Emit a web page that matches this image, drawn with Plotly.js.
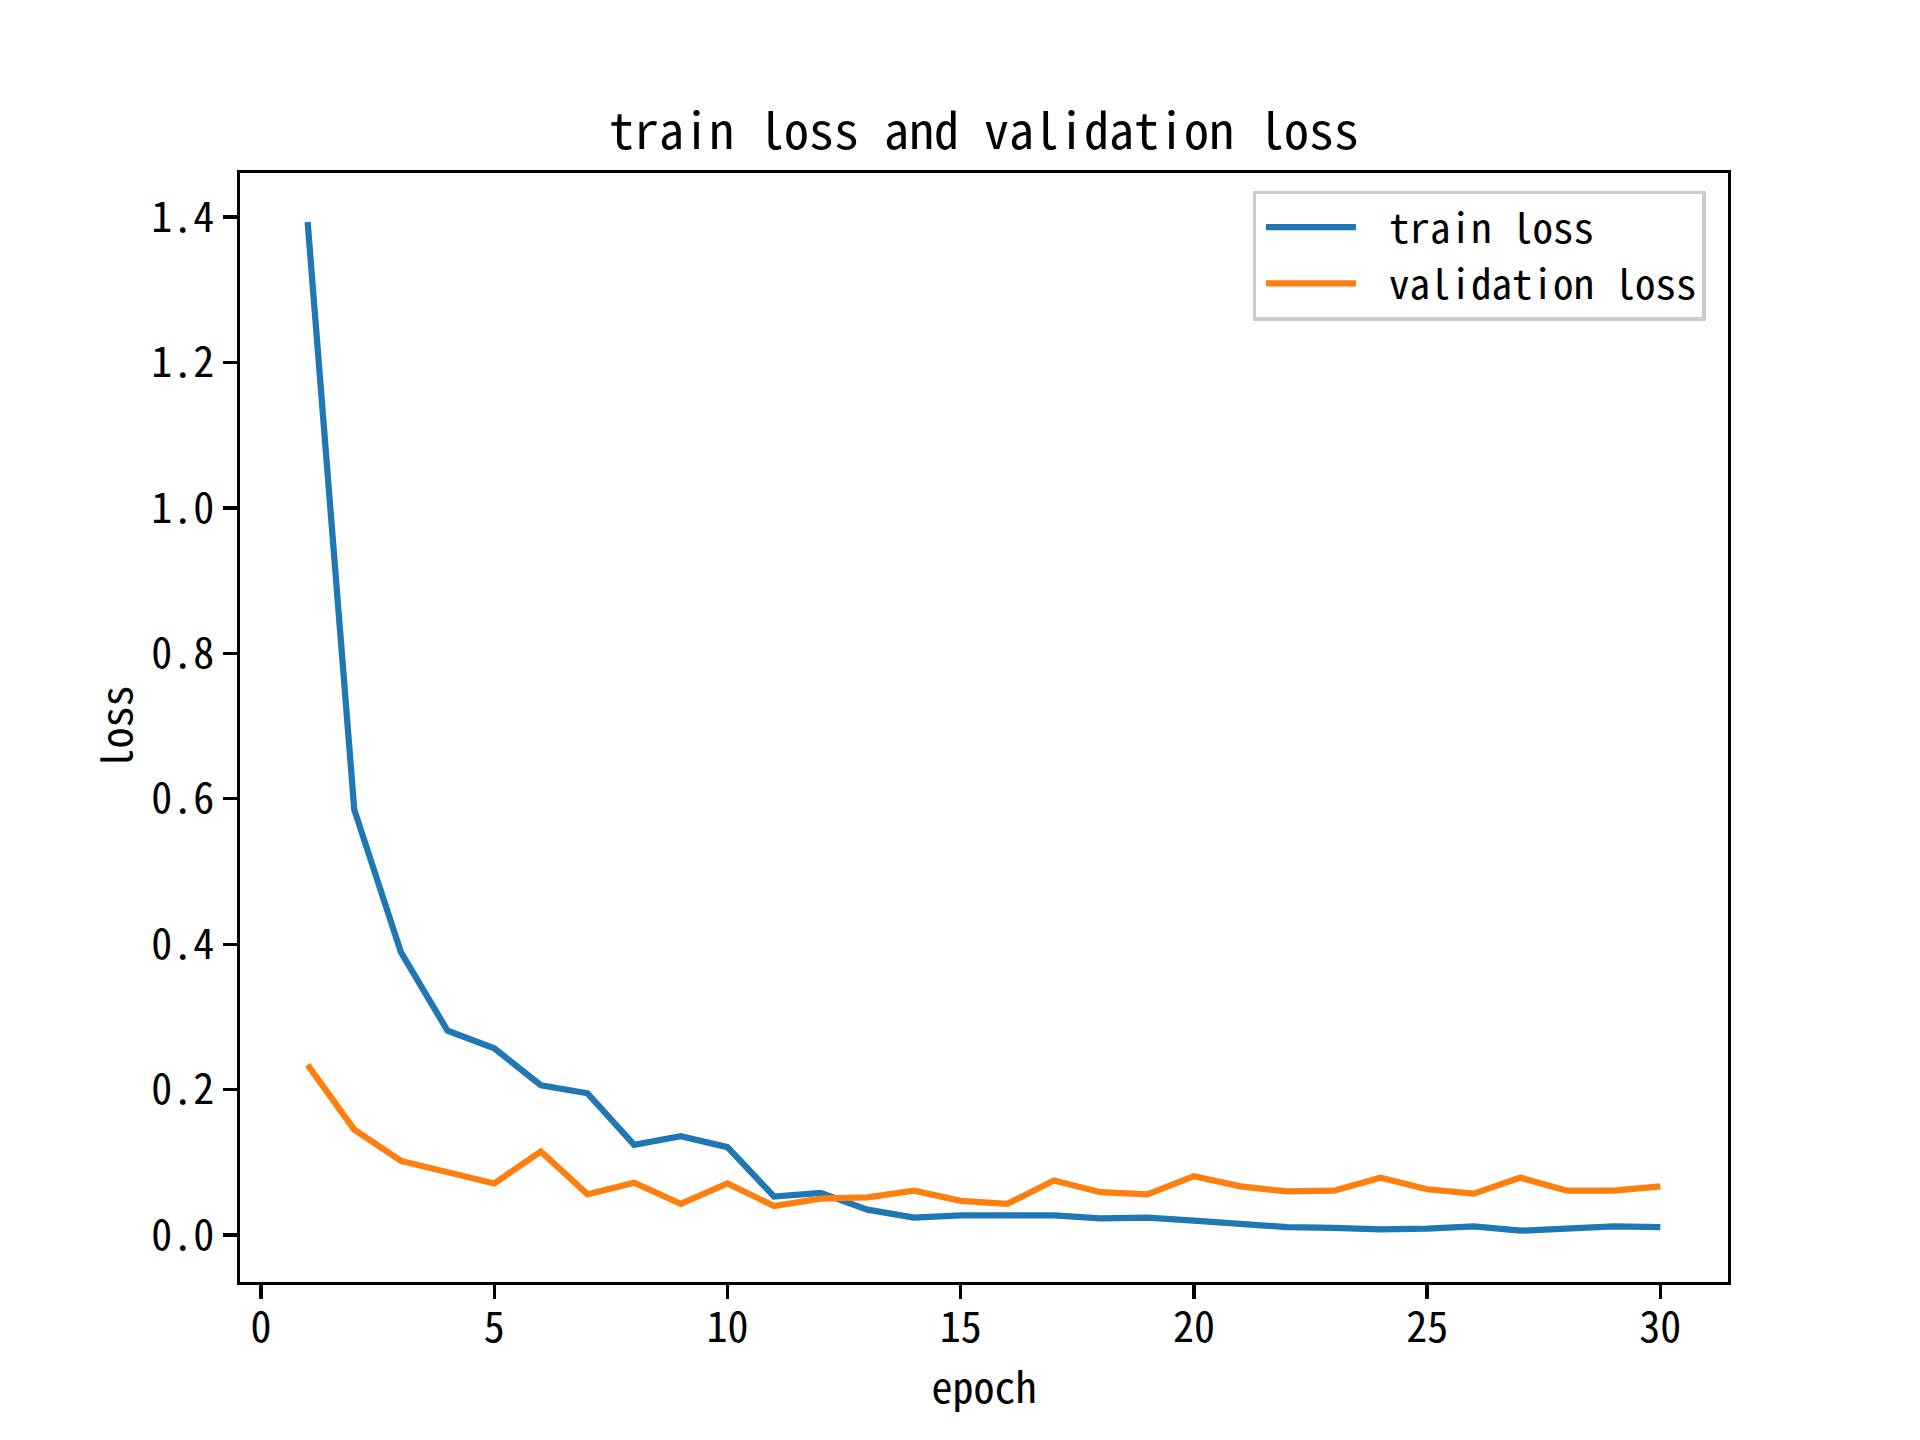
<!DOCTYPE html>
<html>
<head>
<meta charset="utf-8">
<script src="https://cdn.plot.ly/plotly-3.0.1.min.js"></script>
<style>
  html, body { margin: 0; padding: 0; background: #ffffff; }
  #chart { width: 1920px; height: 1440px; }
</style>
</head>
<body>
<div id="chart"></div>
<script>
const epochs = [1,2,3,4,5,6,7,8,9,10,11,12,13,14,15,16,17,18,19,20,21,22,23,24,25,26,27,28,29,30];
const trainLoss = [1.393,0.585,0.389,0.281,0.257,0.206,0.195,0.124,0.136,0.121,0.053,0.058,0.035,0.024,0.027,0.027,0.027,0.023,0.024,0.020,0.016,0.011,0.010,0.008,0.009,0.012,0.006,0.010,0.012,0.011];
const valLoss = [0.234,0.145,0.102,0.087,0.071,0.115,0.056,0.072,0.043,0.071,0.040,0.050,0.052,0.061,0.047,0.043,0.075,0.059,0.056,0.081,0.067,0.060,0.061,0.079,0.063,0.057,0.079,0.061,0.061,0.067];
const seriesNames = ["train loss", "validation loss"];
const titleText = "train loss and validation loss";
const xLabel = "epoch";
const yLabel = "loss";
const xTicks = [0,5,10,15,20,25,30];
const yTicks = [0.0,0.2,0.4,0.6,0.8,1.0,1.2,1.4];
const yTickText = ["0.0","0.2","0.4","0.6","0.8","1.0","1.2","1.4"];

const FONT = '"Noto Sans Mono CJK SC", "Noto Sans Mono CJK JP", "DejaVu Sans Mono", monospace';

const traces = [
  { x: epochs, y: trainLoss, name: seriesNames[0], type: 'scatter', mode: 'lines',
    line: { color: '#1f77b4', width: 6.25 } },
  { x: epochs, y: valLoss, name: seriesNames[1], type: 'scatter', mode: 'lines',
    line: { color: '#ff7f0e', width: 6.25 } }
];

const axisCommon = {
  showgrid: false, zeroline: false, showline: true, mirror: true,
  linecolor: '#000000', linewidth: 3.3,
  ticks: 'outside', ticklen: 14, tickwidth: 3.3, tickcolor: '#000000',
  tickfont: { family: FONT, size: 42, color: '#000000' }
};

const layout = {
  width: 1920, height: 1440,
  paper_bgcolor: '#ffffff', plot_bgcolor: '#ffffff',
  margin: { l: 240, r: 192, t: 173, b: 158, pad: 0 },
  font: { family: FONT, color: '#000000' },
  title: { text: titleText, font: { family: FONT, size: 50, color: '#000000' },
           x: 0.5, xref: 'paper', xanchor: 'center', y: 0.909, yref: 'container', yanchor: 'middle' },
  xaxis: Object.assign({}, axisCommon, {
    range: [-0.45, 31.45], tickvals: xTicks, ticktext: xTicks.map(String),
    ticklabelstandoff: -8,
    title: { text: xLabel, font: { family: FONT, size: 42, color: '#000000' }, standoff: 1 }
  }),
  yaxis: Object.assign({}, axisCommon, {
    range: [-0.0645, 1.4605], tickvals: yTicks, ticktext: yTickText,
    title: { text: yLabel, font: { family: FONT, size: 42, color: '#000000' }, standoff: 6 }
  }),
  legend: {
    x: 0.985, xanchor: 'right', y: 0.984, yanchor: 'top',
    bgcolor: 'rgba(255,255,255,0.8)', bordercolor: '#cccccc', borderwidth: 3.3,
    font: { family: FONT, size: 41, color: '#000000' },
    itemwidth: 123, tracegroupgap: 0
  },
  showlegend: true
};

Plotly.newPlot('chart', traces, layout, { displayModeBar: false, staticPlot: true }).then(function (gd) {
  // matplotlib-style legend handles: 90px long, with a gap before the label
  gd.querySelectorAll('.legend .legendlines path').forEach(function (p) {
    p.setAttribute('d', 'M10,0h90');
  });
});
</script>
</body>
</html>
